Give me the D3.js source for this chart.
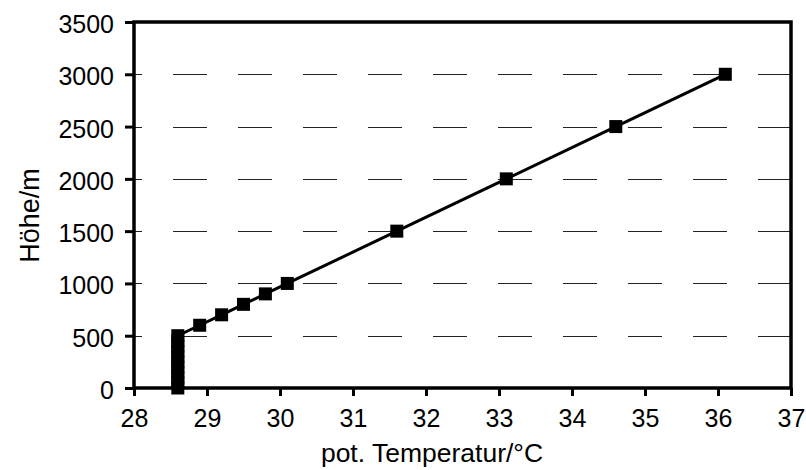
<!DOCTYPE html>
<html>
<head>
<meta charset="utf-8">
<script src="https://cdn.jsdelivr.net/npm/d3@7"></script>
<style>
html,body{margin:0;padding:0;background:#fff;}
svg{display:block;font-family:"Liberation Sans",Arial,sans-serif;}
</style>
</head>
<body>
<svg id="chart" width="806" height="470"></svg>
<script>
const temperature = [28.6,28.6,28.6,28.6,28.6,28.6,28.6,28.6,28.6,28.6,28.6,28.9,29.2,29.5,29.8,30.1,31.6,33.1,34.6,36.1];
const height = [0,50,100,150,200,250,300,350,400,450,500,600,700,800,900,1000,1500,2000,2500,3000];
const xTicks = [28,29,30,31,32,33,34,35,36,37];
const yTicks = [0,500,1000,1500,2000,2500,3000,3500];
const gridValues = [500,1000,1500,2000,2500,3000];
const xTitle = "pot. Temperatur/°C";
const yTitle = "Höhe/m";

const svg = d3.select("#chart");
const m = {left:134, right:791, top:22, bottom:388};
const x = d3.scaleLinear().domain([28,37]).range([m.left,m.right]);
const y = d3.scaleLinear().domain([0,3500]).range([m.bottom,m.top]);

// gridlines
svg.append("g").selectAll("line").data(gridValues).join("line")
  .attr("x1",m.left).attr("x2",m.right)
  .attr("y1",d=>Math.round(y(d))+0.5).attr("y2",d=>Math.round(y(d))+0.5)
  .attr("stroke","#222").attr("stroke-width",1)
  .attr("stroke-dasharray","34 31").attr("stroke-dashoffset",26);

// axes
const xAxis = svg.append("g").attr("transform",`translate(0,${m.bottom})`)
  .call(d3.axisBottom(x).tickValues(xTicks).tickFormat(d3.format("d")).tickSize(8).tickSizeOuter(0));
const yAxis = svg.append("g").attr("transform",`translate(${m.left},0)`)
  .call(d3.axisLeft(y).tickValues(yTicks).tickFormat(d3.format("d")).tickSize(9).tickSizeOuter(0));
[xAxis,yAxis].forEach(a=>{
  a.select(".domain").remove();
  a.selectAll(".tick line").attr("stroke","#000").attr("stroke-width",3);
  a.selectAll(".tick text").attr("fill","#000").attr("font-size",25)
    .attr("font-family","'Liberation Sans',Arial,sans-serif");
});
xAxis.selectAll(".tick text").attr("y",39).attr("dy",0);
yAxis.selectAll(".tick text").attr("x",-20).attr("dy","0.42em");

// frame
svg.append("rect").attr("x",m.left).attr("y",m.top)
  .attr("width",m.right-m.left).attr("height",m.bottom-m.top)
  .attr("fill","none").attr("stroke","#000").attr("stroke-width",3.5);

// line
const pts = temperature.map((t,i)=>[t,height[i]]);
svg.append("path").datum(pts)
  .attr("d",d3.line().x(d=>x(d[0])).y(d=>y(d[1])))
  .attr("fill","none").attr("stroke","#000").attr("stroke-width",3);

// markers
const s = 13;
svg.append("g").selectAll("rect").data(pts).join("rect")
  .attr("x",d=>x(d[0])-s/2).attr("y",d=>y(d[1])-s/2)
  .attr("width",s).attr("height",s).attr("fill","#000");

// titles
svg.append("text").attr("x",432).attr("y",462).attr("text-anchor","middle")
  .attr("font-size",26.5).attr("fill","#000").text(xTitle);
svg.append("text").attr("transform",`translate(39,215.5) rotate(-90)`).attr("text-anchor","middle")
  .attr("font-size",27).attr("fill","#000").text(yTitle);
</script>
</body>
</html>
